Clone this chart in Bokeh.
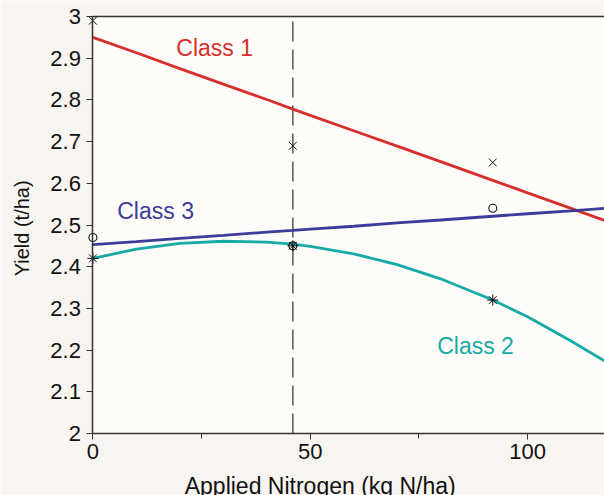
import math
from bokeh.plotting import figure
from bokeh.models import (Range1d, FixedTicker, Label, LinearAxis,
                          CustomJSTickFormatter, BoxAnnotation)
from bokeh.embed import file_html
from bokeh.resources import INLINE

# ---- data ----
nitrogen = [0, 46, 92]
class1_obs = [2.99, 2.69, 2.65]
class2_obs = [2.42, 2.45, 2.32]
class3_obs = [2.47, 2.45, 2.54]

fit_x = [0, 10, 20, 30, 40, 46, 50, 60, 70, 80, 92, 100, 110, 118]
class1_fit = [2.950, 2.913, 2.875, 2.838, 2.801, 2.778, 2.763, 2.726,
              2.689, 2.652, 2.607, 2.577, 2.540, 2.510]
class2_fit = [2.420, 2.442, 2.456, 2.461, 2.459, 2.454, 2.449, 2.431,
              2.405, 2.371, 2.320, 2.280, 2.222, 2.172]
class3_fit = [2.453, 2.460, 2.468, 2.475, 2.483, 2.487, 2.490, 2.497,
              2.505, 2.512, 2.521, 2.527, 2.534, 2.540]

x_major = [0, 50, 100]
x_minor = [25, 75]
y_ticks = [2.0, 2.1, 2.2, 2.3, 2.4, 2.5, 2.6, 2.7, 2.8, 2.9, 3.0]
y_min, y_max = 2.0, 3.0
x_min = 0
optimum_n = 46

class_names = ["Class 1", "Class 2", "Class 3"]
label_x = [19.2, 79.2, 5.6]
label_y = [2.924, 2.211, 2.533]

RED = "#d62f2d"
TEAL = "#17aaa7"
BLUE = "#3c3c9c"
FONT = "Liberation Sans"
OUTER = "#f8f5f0"
INNER = "#fdfcf9"
AX = "#333333"

# the frame fills the whole canvas; axes are drawn at fixed data locations
p = figure(width=604, height=495, output_backend="svg", toolbar_location=None,
           x_range=Range1d(-21.26, 117.7), y_range=Range1d(1.8513, 3.0384),
           min_border=0, min_border_left=0, min_border_right=0,
           min_border_top=0, min_border_bottom=0)
p.border_fill_color = OUTER
p.background_fill_color = OUTER
p.outline_line_color = None
p.grid.visible = False

# plot area
p.add_layout(BoxAnnotation(left=x_min, bottom=y_min, top=y_max, fill_color=INNER,
                           fill_alpha=1.0, line_color=None, level="underlay"))

for ax in (p.xaxis[0], p.yaxis[0]):
    ax.axis_line_color = AX
    ax.axis_line_width = 1.5
    ax.major_tick_line_color = AX
    ax.minor_tick_line_color = AX
    ax.major_tick_in = 0
    ax.major_tick_out = 6
    ax.minor_tick_in = 0
    ax.major_label_text_font = FONT
    ax.major_label_text_font_size = "22px"
    ax.major_label_text_color = "#111111"

p.xaxis.fixed_location = y_min
p.xaxis.bounds = (x_min, 200)
p.xaxis.ticker = FixedTicker(ticks=x_major, minor_ticks=x_minor)
p.xaxis.minor_tick_out = 5
p.xaxis.major_label_standoff = 5

p.yaxis.fixed_location = x_min
p.yaxis.bounds = (y_min, y_max)
p.yaxis.ticker = FixedTicker(ticks=y_ticks, minor_ticks=[])
p.yaxis.minor_tick_out = 0
p.yaxis.major_label_standoff = 6
p.yaxis.formatter = CustomJSTickFormatter(code="return String(Math.round(tick*10)/10);")

# top frame line
top = LinearAxis(ticker=FixedTicker(ticks=[]), axis_line_color=AX,
                 axis_line_width=1.5, major_tick_line_color=None,
                 minor_tick_line_color=None, major_label_text_font_size="0px",
                 bounds=(x_min, 200), fixed_location=y_max)
p.add_layout(top, "above")

# vertical dashed line at the optimum
p.segment(x0=[optimum_n], y0=[y_min], x1=[optimum_n], y1=[y_max],
          line_color="#555555", line_width=1.5, line_dash="20 8")

# fitted curves
p.line(fit_x, class1_fit, line_color=RED, line_width=2.8)
p.line(fit_x, class3_fit, line_color=BLUE, line_width=2.8)
p.line(fit_x, class2_fit, line_color=TEAL, line_width=2.8)

# observed means
p.scatter(nitrogen, class1_obs, marker="x", size=11, line_color="#111111", line_width=1.0)
p.scatter(nitrogen, class3_obs, marker="circle", size=8, fill_color=None,
          line_color="#111111", line_width=1.1)
p.scatter(nitrogen, class2_obs, marker="asterisk", size=11, line_color="#111111", line_width=1.0)

colors = [RED, TEAL, BLUE]
for name, lx, ly, c in zip(class_names, label_x, label_y, colors):
    p.add_layout(Label(x=lx, y=ly, text=name, text_color=c, text_font=FONT,
                       text_font_size="23px", text_baseline="alphabetic"))

# axis titles
p.add_layout(Label(x=52.3, y=1.875, text="Applied Nitrogen (kg N/ha)",
                   text_color="#111111", text_font=FONT, text_font_size="23px",
                   text_align="center", text_baseline="alphabetic"))
p.add_layout(Label(x=-16.2, y=2.492, text="Yield (t/ha)", angle=math.pi / 2,
                   text_color="#111111", text_font=FONT, text_font_size="20px",
                   text_align="center", text_baseline="middle"))

open("out.html", "w").write(file_html(p, INLINE))
